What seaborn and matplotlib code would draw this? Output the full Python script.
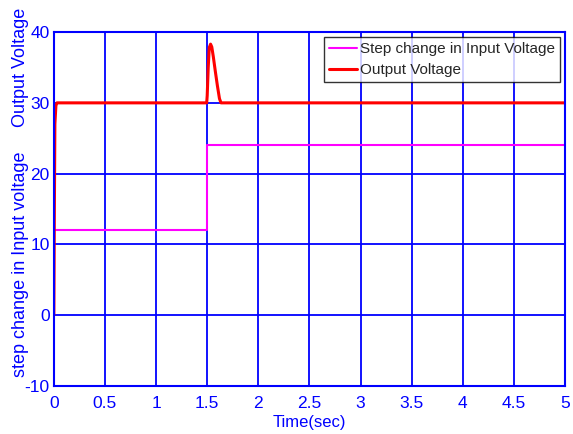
import numpy as np
import pandas as pd
import seaborn as sns
import matplotlib.pyplot as plt

# input voltage step (time, volts)
vin_t = [0.0, 1.5, 1.5, 5.0]
vin_v = [12.0, 12.0, 24.0, 24.0]

# output voltage response (time, volts)
vout_t = [0.0, 0.005, 0.01, 0.02, 0.03, 1.495, 1.50, 1.51, 1.52, 1.533, 1.545, 1.56, 1.58, 1.60, 1.62, 1.635, 5.0]
vout_v = [0.0, 15.0, 27.0, 29.6, 30.0, 30.0, 31.0, 35.0, 37.8, 38.3, 37.9, 36.5, 34.4, 32.4, 30.6, 30.0, 30.0]

x_ticks = [0, 0.5, 1, 1.5, 2, 2.5, 3, 3.5, 4, 4.5, 5]
x_labels = ["0", "0.5", "1", "1.5", "2", "2.5", "3", "3.5", "4", "4.5", "5"]
y_ticks = [-10, 0, 10, 20, 30, 40]

sns.set_style("white")
plt.rcParams['font.family'] = ['Liberation Sans Narrow', 'Liberation Sans', 'DejaVu Sans']
plt.rcParams['axes.unicode_minus'] = False

blue = "#0000ff"
fig, ax = plt.subplots(figsize=(5.73, 4.34), dpi=100)
fig.subplots_adjust(left=0.094, right=0.986, top=0.926, bottom=0.111)

df_in = pd.DataFrame({"t": vin_t, "v": vin_v})
df_out = pd.DataFrame({"t": vout_t, "v": vout_v})
sns.lineplot(data=df_in, x="t", y="v", ax=ax, color="#ff00ff", lw=1.5,
             sort=False, estimator=None, label="Step change in Input Voltage")
sns.lineplot(data=df_out, x="t", y="v", ax=ax, color="#ff0000", lw=2.2,
             sort=False, estimator=None, label="Output Voltage")

ax.set_xlim(0, 5)
ax.set_ylim(-10, 40)
ax.set_xticks(x_ticks)
ax.set_xticklabels(x_labels)
ax.set_yticks(y_ticks)
ax.grid(True, color=blue, lw=1.3)
ax.set_axisbelow(True)
for s in ax.spines.values():
    s.set_color(blue)
    s.set_linewidth(1.5)
ax.tick_params(axis="x", colors=blue, labelsize=12.5, length=0, pad=7)
ax.tick_params(axis="y", colors=blue, labelsize=12.5, length=0, pad=3)
ax.set_xlabel("Time(sec)", color=blue, fontsize=12, labelpad=3)
ax.set_ylabel("")

fig.text(0.035, 0.845, "Output Voltage", rotation=90, color=blue, fontsize=13,
         ha="center", va="center")
fig.text(0.035, 0.39, "step change in Input voltage", rotation=90, color=blue,
         fontsize=13, ha="center", va="center")

leg = ax.legend(loc="upper right", fontsize=11, frameon=True, fancybox=False,
                edgecolor="black", handlelength=1.8, handletextpad=0.2,
                borderaxespad=0.3, borderpad=0.35, labelspacing=0.45)
leg.get_frame().set_linewidth(1.0)

fig.savefig("out.png", dpi=100)
